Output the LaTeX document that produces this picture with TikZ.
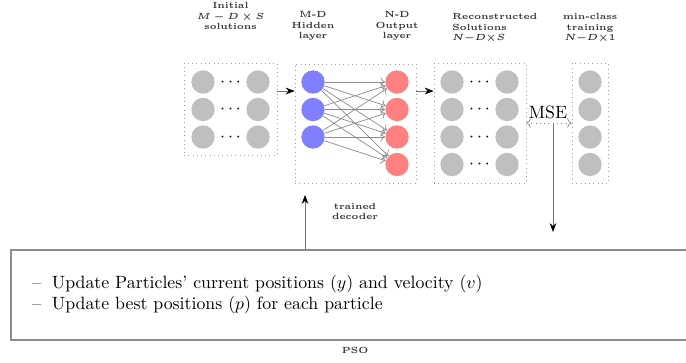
\documentclass[tikz,border=0pt]{standalone}
\usetikzlibrary{arrows.meta,calc}
\begin{document}
\begin{tikzpicture}[x=0.5618pt,y=-0.5618pt,
  neuron/.style={circle,minimum size=13.1pt,inner sep=0pt},
  sol/.style={neuron,fill=black!25},
  hid/.style={neuron,fill=blue!50},
  outn/.style={neuron,fill=red!50},
  group/.style={draw=black!40,dotted,inner sep=0pt},
  lbl/.style={font=\tiny\bfseries\boldmath,align=center,inner sep=0pt,text=black!80},
  dotsep/.style={anchor=base,yshift=-2.5pt,inner sep=0pt},
  link/.style={draw=black!45,-{To[length=2.5pt]}},
  flow/.style={draw=black!55,-{Stealth[black,length=5pt]}},
]
\useasboundingbox (0,0) rectangle (686,362);
\clip (0,0) rectangle (686,362);

% dotted group frames
\node[group,minimum width=52.25pt,minimum height=51.69pt] (box1) at (230.5,109) {};
\node[group,minimum width=67.98pt,minimum height=66.85pt] (box2) at (355.5,123.5) {};
\node[group,minimum width=51.69pt,minimum height=67.42pt] (box3) at (480,123) {};
\node[group,minimum width=20.22pt,minimum height=67.42pt] (box4) at (590,123) {};

% initial solutions
\foreach \r/\y in {1/82,2/109.5,3/137}{
  \node[sol] (a\r) at (203,\y) {};
  \node[sol] (b\r) at (258,\y) {};
  \node[dotsep] (ad\r) at (230.5,\y) {$\cdots$};
}

% hidden and output layers
\foreach \r/\y in {1/82,2/109.5,3/137}
  \node[hid] (h\r) at (313,\y) {};
\foreach \r/\y in {1/82,2/109.5,3/137,4/164.5}
  \node[outn] (o\r) at (397,\y) {};
\foreach \i in {1,2,3}
  \foreach \j in {1,2,3,4}
    \draw[link] (h\i) -- (o\j);

% reconstructed solutions and min-class training
\foreach \r/\y in {1/82,2/109.5,3/137,4/164.5}{
  \node[sol] (c\r) at (452,\y) {};
  \node[sol] (d\r) at (507,\y) {};
  \node[dotsep] (cd\r) at (479.5,\y) {$\cdots$};
  \node[sol] (m\r) at (590,\y) {};
}

% headings
\node[lbl] (lab1) at (230.5,16) {Initial\\$M-D\times S$\\solutions};
\node[lbl] (lab2) at (313,26) {M-D\\Hidden\\layer};
\node[lbl] (lab3) at (397,26) {N-D\\Output\\layer};
\node[lbl,align=left,anchor=west] (lab4) at (452,28) {Reconstructed\\Solutions\\$N{-}D{\times}S$};
\node[lbl] (lab5) at (590,28) {min-class\\training\\$N{-}D{\times}1$};

% connectors between groups
\coordinate (lvl) at (0,91);
\draw[flow] (box1.east |- lvl) -- (box2.west |- lvl);
\draw[flow] (box2.east |- lvl) -- (box3.west |- lvl);

% MSE comparison
\node[inner sep=0pt] (mse) at (548,112) {MSE};
\draw[draw=black!45,dotted,{To[length=2.5pt]}-{To[length=2.5pt]}] (box3.east) -- (box4.west);
\coordinate (msej) at (553,123);
\coordinate (msedown) at (553,232);
\draw[flow] (msej) -- (msedown);

% PSO block
\node[draw=black!45,line width=0.6pt,minimum width=386.5pt,minimum height=50.56pt,inner sep=0pt] (pso) at (355,295) {};
\node[anchor=west,align=left,inner sep=0pt] (upd) at (32,294.5)
  {\textendash\hspace{0.6em}Update Particles' current positions ($y$) and velocity ($v$)\\
   \textendash\hspace{0.6em}Update best positions ($p$) for each particle};
\node[lbl] (psol) at (355,350) {PSO};

% decoder feedback
\coordinate (up) at (305,195);
\draw[flow] (pso.north -| up) -- (up);
\node[lbl] (dec) at (355,211.5) {trained\\decoder};
\end{tikzpicture}
\end{document}
